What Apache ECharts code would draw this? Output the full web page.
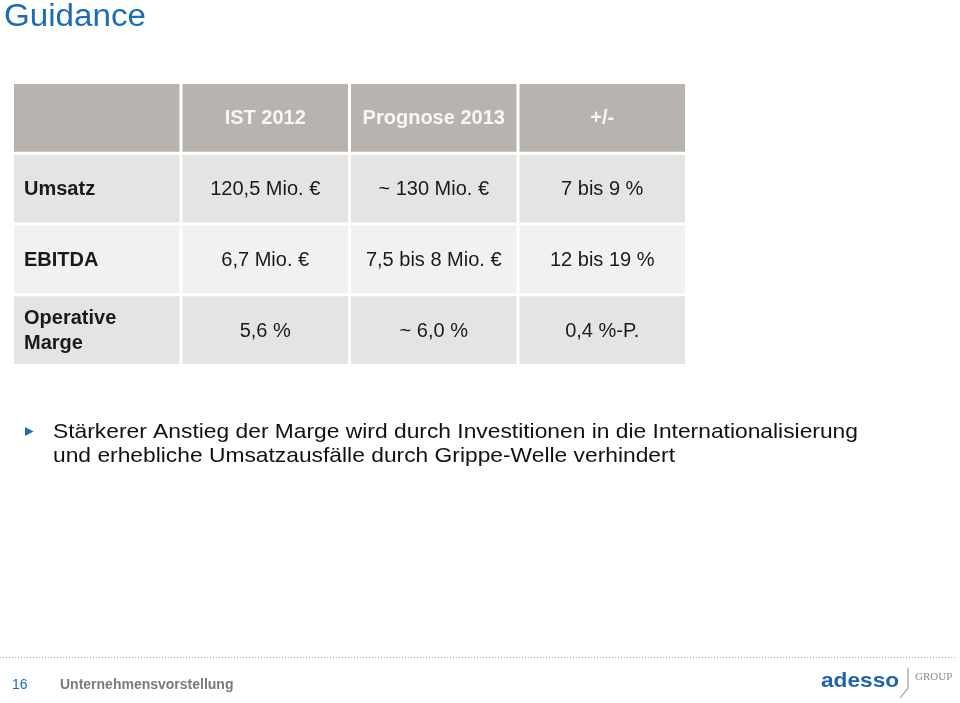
<!DOCTYPE html>
<html>
<head>
<meta charset="utf-8">
<script src="https://cdn.jsdelivr.net/npm/echarts@6/dist/echarts.min.js"></script>
<style>
  html, body { margin: 0; padding: 0; background: #fff; }
  #main { width: 960px; height: 703px; }
</style>
</head>
<body>
<div id="main"></div>
<script>
// Tabellendaten
var columnHeads = ['', 'IST 2012', 'Prognose 2013', '+/-'];
var rowLabels = ['Umsatz', 'EBITDA', 'Operative\nMarge'];
var ist2012 = ['120,5 Mio. €', '6,7 Mio. €', '5,6 %'];
var prognose2013 = ['~ 130 Mio. €', '7,5 bis 8 Mio. €', '~ 6,0 %'];
var change = ['7 bis 9 %', '12 bis 19 %', '0,4 %-P.'];

var bulletLines = [
  'Stärkerer Anstieg der Marge wird durch Investitionen in die Internationalisierung',
  'und erhebliche Umsatzausfälle durch Grippe-Welle verhindert'
];

// Zellen aufbauen: [spalte, zeile, text]
var cells = [];
columnHeads.forEach(function (h, c) { cells.push([c, 0, h]); });
rowLabels.forEach(function (label, r) {
  cells.push([0, r + 1, label]);
  cells.push([1, r + 1, ist2012[r]]);
  cells.push([2, r + 1, prognose2013[r]]);
  cells.push([3, r + 1, change[r]]);
});

var headerColor = '#b8b3ae';
var rowColors = ['#e4e4e4', '#f1f1f1'];
var font = 'Arial, "Liberation Sans", sans-serif';

// einfacher Text-Helfer fuer die Folienelemente
function label(text, x, y, f, color, sx) {
  return {
    type: 'text', x: x, y: y, scaleX: sx || 1,
    style: { text: text, x: 0, y: 0, verticalAlign: 'middle', fill: color, font: f }
  };
}

var chart = echarts.init(document.getElementById('main'));

var option = {
  animation: false,
  backgroundColor: '#fff',
  grid: { left: 12.5, top: 82.5, width: 674, height: 283 },
  xAxis: { type: 'category', data: [0, 1, 2, 3], show: false },
  yAxis: { type: 'category', data: [0, 1, 2, 3], inverse: true, show: false },
  series: [{
    type: 'custom',
    data: cells.map(function (d) { return [d[0], d[1]]; }),
    renderItem: function (params, api) {
      var c = api.value(0), r = api.value(1);
      var pt = api.coord([c, r]);
      var sz = api.size([1, 1]);
      var x = pt[0] - sz[0] / 2 + 1.5;
      var y = pt[1] - sz[1] / 2 + 1.5;
      var w = sz[0] - 3, h = sz[1] - 3;
      var txt = cells[params.dataIndex][2];
      var fill = r === 0 ? headerColor : rowColors[(r - 1) % 2];
      var isHead = r === 0;
      var bold = isHead || c === 0;
      return {
        type: 'group',
        children: [{
          type: 'rect',
          shape: { x: x, y: y, width: w, height: h },
          style: { fill: fill }
        }, {
          type: 'text',
          style: {
            text: txt,
            x: c === 0 ? x + 10 : x + w / 2,
            y: y + h / 2 + 1,
            align: c === 0 ? 'left' : 'center',
            verticalAlign: 'middle',
            fill: isHead ? '#f7f7f7' : '#1a1a1a',
            font: (bold ? 'bold ' : '') + '20px ' + font,
            lineHeight: 25
          }
        }]
      };
    }
  }],
  graphic: [
    label('Guidance', 4, 17, '31px ' + font, '#1d6db5', 1.07),
    {
      type: 'polygon',
      shape: { points: [[25, 427], [33.5, 431.5], [25, 436]] },
      style: { fill: '#1d6db5' }
    },
    label(bulletLines[0], 53, 432, '21px ' + font, '#111', 1.086),
    label(bulletLines[1], 53, 456, '21px ' + font, '#111', 1.086),
    {
      type: 'line',
      shape: { x1: 0, y1: 657.5, x2: 955, y2: 657.5 },
      style: { stroke: '#7fa9cf', lineWidth: 1, lineDash: [1, 2] }
    },
    label('16', 12, 685, '14px ' + font, '#1d6db5'),
    label('Unternehmensvorstellung', 60, 685, 'bold 14px ' + font, '#7a7a7a'),
    label('adesso', 821, 681, 'bold 21px ' + font, '#2262a8', 1.08),
    {
      type: 'polyline',
      shape: { points: [[908, 668], [908, 688], [900, 698]] },
      style: { stroke: '#9a9a9a', lineWidth: 1.2, fill: null }
    },
    label('GROUP', 915, 677, '11px "Liberation Serif", "DejaVu Serif", serif', '#8a8a8a')
  ]
};

chart.setOption(option);
</script>
</body>
</html>
